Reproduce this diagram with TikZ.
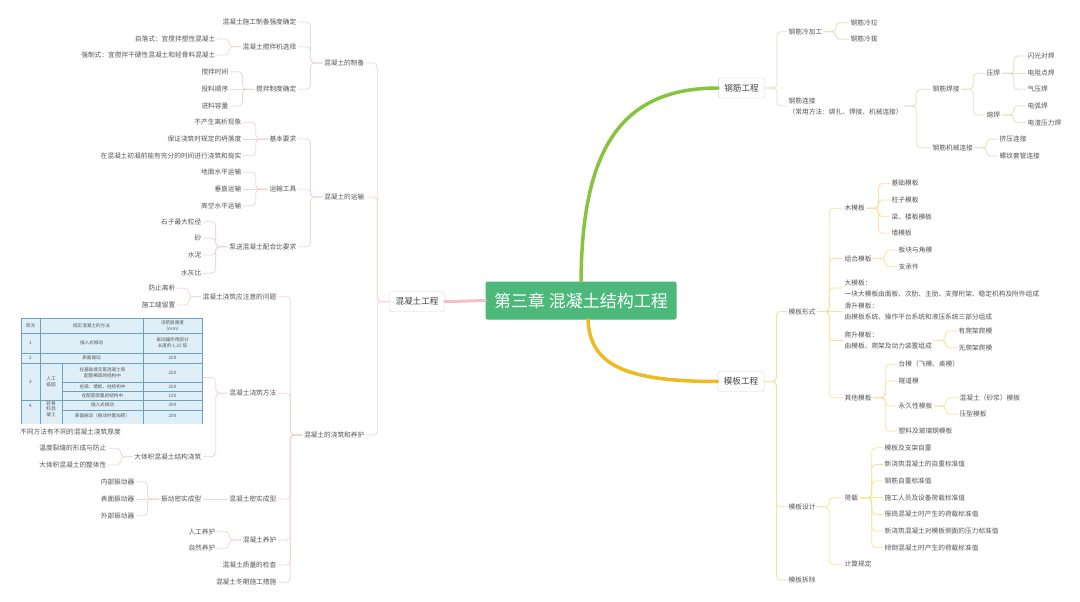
\documentclass[tikz,border=0pt]{standalone}
\usepackage{fontspec}
\setmainfont{Noto Sans CJK SC}
\usepackage{tikz}
\usetikzlibrary{fit}
\definecolor{topicgreen}{RGB}{76,184,122}
\definecolor{brgreen}{RGB}{134,196,62}
\definecolor{bryellow}{RGB}{238,186,32}
\definecolor{brpink}{RGB}{242,192,202}
\definecolor{lngreen}{RGB}{222,226,192}
\definecolor{lnyellow}{RGB}{246,226,160}
\definecolor{lnpink}{RGB}{242,214,214}
\definecolor{txt}{RGB}{85,85,85}
\definecolor{boxln}{RGB}{214,214,214}
\definecolor{tblfill}{RGB}{222,239,247}
\definecolor{tblline}{RGB}{110,160,192}
\tikzset{
  topic/.style={fill=topicgreen, text=white, rounded corners=2pt,
    minimum width=191pt, minimum height=38pt, font=\fontsize{17}{20}\selectfont},
  mainbox/.style={draw=boxln, fill=white, rounded corners=2pt, text=txt!80!black,
    minimum height=20pt, inner xsep=6pt, font=\fontsize{8.6}{10}\selectfont},
  leaf/.style={text=txt, inner sep=1.5pt, align=left, font=\fontsize{6.7}{11}\selectfont},
  lleaf/.style={leaf, anchor=east},
  rleaf/.style={leaf, anchor=west},
  cell/.style={text=txt, inner sep=0pt, align=center, font=\fontsize{4.6}{5.6}\selectfont},
  pinkln/.style={draw=lnpink, line width=0.8pt, rounded corners=4pt},
  greenln/.style={draw=lngreen, line width=0.8pt, rounded corners=4pt},
  yellowln/.style={draw=lnyellow, line width=0.8pt, rounded corners=4pt},
  trunk/.style={line width=3.5pt, line cap=round}
}
\newcommand{\rlink}[3]{\draw[#1] (#2.east) -- ++(12,0) |- (#3.west);}
\newcommand{\llink}[3]{\draw[#1] (#2.west) -- ++(-12,0) |- (#3.east);}

\begin{document}
\begin{tikzpicture}[x=1pt, y=-1pt]
  \useasboundingbox (0,0) rectangle (1080,602);
  \fill[white] (0,0) rectangle (1080,602);

  % centre and main branches
  \node[topic] (topic) at (581,300.5) {第三章 混凝土结构工程};
  \node[mainbox] (conc) at (417,301.7) {混凝土工程};
  \node[mainbox] (rebar) at (741.5,88) {钢筋工程};
  \node[mainbox] (form) at (741,381.5) {模板工程};
  \draw[trunk, draw=brpink, line width=3pt] (conc.east) -- (topic.west);
  \draw[trunk, draw=brgreen] (topic.north) .. controls (582,150) and (620,88) .. (rebar.west);
  \draw[trunk, draw=bryellow] ([xshift=7pt]topic.south) .. controls (590,365) and (625,381.5) .. (form.west);

  % ---- concrete (left) ----
  \node[lleaf] (prep) at (366,63) {混凝土的制备};
  \node[lleaf] (prepStr) at (298,22) {混凝土施工制备强度确定};
  \node[lleaf] (prepMix) at (298,46.7) {混凝土搅拌机选择};
  \node[lleaf] (mixFree) at (217,39) {自落式：宜搅拌塑性混凝土};
  \node[lleaf] (mixForce) at (217,55) {强制式：宜搅拌干硬性混凝土和轻骨料混凝土};
  \node[lleaf] (prepRule) at (298,89.3) {搅拌制度确定};
  \node[lleaf] (ruleTime) at (230,71.7) {搅拌时间};
  \node[lleaf] (ruleOrder) at (230,89.3) {投料顺序};
  \node[lleaf] (ruleLoad) at (230,106) {进料容量};

  \node[lleaf] (trans) at (366,197) {混凝土的运输};
  \node[lleaf] (req) at (298,139) {基本要求};
  \node[lleaf] (req1) at (243,122.3) {不产生离析现象};
  \node[lleaf] (req2) at (243,139) {保证浇筑时规定的坍落度};
  \node[lleaf] (req3) at (243,155.7) {在混凝土初凝前能有充分的时间进行浇筑和捣实};
  \node[lleaf] (tool) at (298,189) {运输工具};
  \node[lleaf] (tool1) at (243,172.3) {地面水平运输};
  \node[lleaf] (tool2) at (243,189) {垂直运输};
  \node[lleaf] (tool3) at (243,205.7) {高空水平运输};
  \node[lleaf] (pump) at (298,246.7) {泵送混凝土配合比要求};
  \node[lleaf] (pump1) at (203,221.7) {石子最大粒径};
  \node[lleaf] (pump2) at (203,238.3) {砂};
  \node[lleaf] (pump3) at (203,255) {水泥};
  \node[lleaf] (pump4) at (203,273.3) {水灰比};

  \node[lleaf] (cast) at (366,435) {混凝土的浇筑和养护};
  \node[lleaf] (note) at (278,296.7) {混凝土浇筑应注意的问题};
  \node[lleaf] (note1) at (177,288.3) {防止离析};
  \node[lleaf] (note2) at (177,305) {施工缝留置};
  \node[lleaf] (meth) at (278,393.3) {混凝土浇筑方法};
  \node[lleaf] (mass) at (203,456.7) {大体积混凝土结构浇筑};
  \node[lleaf] (mass1) at (108,448.3) {温度裂缝的形成与防止};
  \node[lleaf] (mass2) at (108,465) {大体积混凝土的整体性};
  \node[lleaf] (comp) at (278,499) {混凝土密实成型};
  \node[lleaf] (vib) at (203,499) {振动密实成型};
  \node[lleaf] (vib1) at (136,481.7) {内部振动器};
  \node[lleaf] (vib2) at (136,499) {表面振动器};
  \node[lleaf] (vib3) at (136,515.7) {外部振动器};
  \node[lleaf] (cure) at (278,540) {混凝土养护};
  \node[lleaf] (cure1) at (217,531.7) {人工养护};
  \node[lleaf] (cure2) at (217,548.3) {自然养护};
  \node[lleaf] (qual) at (278,565) {混凝土质量的检查};
  \node[lleaf] (wint) at (278,582.3) {混凝土冬期施工措施};

  % pouring-thickness table (picture attached to the topic)
  \begin{scope}
    \clip (19,316) rectangle (205,423);
    \fill[tblfill] (21,318) rectangle (202,440);
    \draw[tblline, line width=0.5pt] (21,318) rectangle (202,440)
      (40,318) -- (40,440) (143,318) -- (143,440) (62,363) -- (62,440)
      (21,333) -- (202,333) (21,353) -- (202,353) (21,363) -- (202,363)
      (62,382) -- (202,382) (62,391) -- (202,391) (21,400) -- (202,400)
      (62,410) -- (202,410);
    \node[cell] (h1) at (30.5,325.5) {项次};
    \node[cell] (h2) at (91.5,325.5) {捣实混凝土的方法};
    \node[cell] (h3) at (172.5,325.5) {浇筑层厚度\\（mm）};
    \node[cell] (r1a) at (30.5,343) {1};
    \node[cell] (r1b) at (91.5,343) {插入式振动};
    \node[cell] (r1c) at (172.5,343) {振动器作用部分\\长度的 1.25 倍};
    \node[cell] (r2a) at (30.5,358) {2};
    \node[cell] (r2b) at (91.5,358) {表面振动};
    \node[cell] (r2c) at (172.5,358) {200};
    \node[cell] (r3a) at (30.5,381.5) {3};
    \node[cell] (r3b) at (51,381.5) {人工\\捣固};
    \node[cell] (r3c) at (102.5,372.5) {在基础或无筋混凝土和\\配筋稀疏的结构中};
    \node[cell] (r3d) at (172.5,372.5) {250};
    \node[cell] (r3e) at (102.5,386.5) {在梁、墙板、柱结构中};
    \node[cell] (r3f) at (172.5,386.5) {200};
    \node[cell] (r3g) at (102.5,395.5) {在配筋密集的结构中};
    \node[cell] (r3h) at (172.5,395.5) {150};
    \node[cell] (r4a) at (30.5,406) {4};
    \node[cell, anchor=north] (r4b) at (51,401) {轻骨\\料混\\凝土};
    \node[cell] (r4c) at (102.5,405) {插入式振动};
    \node[cell] (r4d) at (172.5,405) {300};
    \node[cell] (r4e) at (102.5,416) {表面振动（振动时需加荷）};
    \node[cell] (r4f) at (172.5,416) {200};
  \end{scope}
  \node[leaf, anchor=west] (tblcap) at (18.5,432) {不同方法有不同的混凝土浇筑厚度};
  \node[fit={(20,318) (203,437)}, inner sep=0pt] (tbl) {};

  \llink{pinkln}{conc}{prep}
  \llink{pinkln}{conc}{trans}
  \llink{pinkln}{conc}{cast}
  \foreach \c in {prepStr,prepMix,prepRule} {\llink{pinkln}{prep}{\c}}
  \foreach \c in {mixFree,mixForce} {\llink{pinkln}{prepMix}{\c}}
  \foreach \c in {ruleTime,ruleLoad} {\llink{pinkln}{prepRule}{\c}}
  \draw[pinkln] (prepRule.west) -- (ruleOrder.east);
  \foreach \c in {req,tool,pump} {\llink{pinkln}{trans}{\c}}
  \foreach \c in {req1,req3} {\llink{pinkln}{req}{\c}}
  \draw[pinkln] (req.west) -- (req2.east);
  \foreach \c in {tool1,tool3} {\llink{pinkln}{tool}{\c}}
  \draw[pinkln] (tool.west) -- (tool2.east);
  \foreach \c in {pump1,pump2,pump3,pump4} {\llink{pinkln}{pump}{\c}}
  \foreach \c in {note,meth,comp,cure,qual,wint} {\llink{pinkln}{cast}{\c}}
  \foreach \c in {note1,note2} {\llink{pinkln}{note}{\c}}
  \foreach \c in {tbl,mass} {\llink{pinkln}{meth}{\c}}
  \foreach \c in {mass1,mass2} {\llink{pinkln}{mass}{\c}}
  \draw[pinkln] (comp.west) -- (vib.east);
  \foreach \c in {vib1,vib3} {\llink{pinkln}{vib}{\c}}
  \draw[pinkln] (vib.west) -- (vib2.east);
  \foreach \c in {cure1,cure2} {\llink{pinkln}{cure}{\c}}

  % ---- rebar (top right) ----
  \node[rleaf] (cold) at (787,31.7) {钢筋冷加工};
  \node[rleaf] (cold1) at (849,22.7) {钢筋冷拉};
  \node[rleaf] (cold2) at (849,39.3) {钢筋冷拔};
  \node[rleaf] (conn) at (787,106) {钢筋连接\\（常用方法：绑扎、焊接、机械连接）};
  \node[rleaf] (weld) at (931,89.3) {钢筋焊接};
  \node[rleaf] (press) at (985,73.3) {压焊};
  \node[rleaf] (press1) at (1026,56) {闪光对焊};
  \node[rleaf] (press2) at (1026,73.3) {电阻点焊};
  \node[rleaf] (press3) at (1026,89.3) {气压焊};
  \node[rleaf] (fuse) at (985,115) {熔焊};
  \node[rleaf] (fuse1) at (1026,106) {电弧焊};
  \node[rleaf] (fuse2) at (1026,122.7) {电渣压力焊};
  \node[rleaf] (mech) at (931,147.7) {钢筋机械连接};
  \node[rleaf] (mech1) at (998,139.3) {挤压连接};
  \node[rleaf] (mech2) at (998,156) {螺纹套管连接};

  \foreach \c in {cold,conn} {\rlink{greenln}{rebar}{\c}}
  \foreach \c in {cold1,cold2} {\rlink{greenln}{cold}{\c}}
  \foreach \c in {weld,mech} {\rlink{greenln}{conn}{\c}}
  \foreach \c in {press,fuse} {\rlink{greenln}{weld}{\c}}
  \foreach \c in {press1,press3} {\rlink{greenln}{press}{\c}}
  \draw[greenln] (press.east) -- (press2.west);
  \foreach \c in {fuse1,fuse2} {\rlink{greenln}{fuse}{\c}}
  \foreach \c in {mech1,mech2} {\rlink{greenln}{mech}{\c}}

  % ---- formwork (bottom right) ----
  \node[rleaf] (ftype) at (787,311.5) {模板形式};
  \node[rleaf] (wood) at (843,208.3) {木模板};
  \node[rleaf] (wood1) at (890,183.3) {基础模板};
  \node[rleaf] (wood2) at (890,200) {柱子模板};
  \node[rleaf] (wood3) at (890,216.7) {梁、楼板模板};
  \node[rleaf] (wood4) at (890,233.3) {墙模板};
  \node[rleaf] (combo) at (843,258.5) {组合模板};
  \node[rleaf] (combo1) at (897,250) {板块与角模};
  \node[rleaf] (combo2) at (897,266.7) {支承件};
  \node[rleaf] (big) at (843,288) {大模板：\\一块大模板由面板、次肋、主肋、支撑桁架、稳定机构及附件组成};
  \node[rleaf] (slip) at (843,311.5) {滑升模板：\\由模板系统、操作平台系统和液压系统三部分组成};
  \node[rleaf] (climb) at (843,340.5) {爬升模板：\\由模板、爬架及动力装置组成};
  \node[rleaf] (climb1) at (957,331) {有爬架爬模};
  \node[rleaf] (climb2) at (957,347.7) {无爬架爬模};
  \node[rleaf] (other) at (843,397.7) {其他模板};
  \node[rleaf] (oth1) at (897,364.3) {台模（飞模、桌模）};
  \node[rleaf] (oth2) at (897,381) {隧道模};
  \node[rleaf] (oth3) at (897,406) {永久性模板};
  \node[rleaf] (perm1) at (958,397.7) {混凝土（砂浆）模板};
  \node[rleaf] (perm2) at (958,414.3) {压型模板};
  \node[rleaf] (oth4) at (897,431) {塑料及玻璃钢模板};
  \node[rleaf] (design) at (787,506.7) {模板设计};
  \node[rleaf] (load) at (843,497.7) {荷载};
  \foreach \n/\t/\y in {load1/模板及支架自重/447.7, load2/新浇筑混凝土的自重标准值/464.4,
      load3/钢筋自重标准值/481, load4/施工人员及设备荷载标准值/497.7,
      load5/振捣混凝土时产生的荷载标准值/514.4, load6/新浇筑混凝土对模板侧面的压力标准值/531,
      load7/倾倒混凝土时产生的荷载标准值/547.7}
    {\node[rleaf] (\n) at (883,\y) {\t};}
  \node[rleaf] (calc) at (843,564.3) {计算规定};
  \node[rleaf] (strip) at (787,580) {模板拆除};

  \foreach \c in {ftype,design,strip} {\rlink{yellowln}{form}{\c}}
  \foreach \c in {wood,combo,big,climb,other} {\rlink{yellowln}{ftype}{\c}}
  \draw[yellowln] (ftype.east) -- (slip.west);
  \foreach \c in {wood1,wood2,wood3,wood4} {\rlink{yellowln}{wood}{\c}}
  \foreach \c in {combo1,combo2} {\rlink{yellowln}{combo}{\c}}
  \foreach \c in {climb1,climb2} {\rlink{yellowln}{climb}{\c}}
  \foreach \c in {oth1,oth2,oth3,oth4} {\rlink{yellowln}{other}{\c}}
  \foreach \c in {perm1,perm2} {\rlink{yellowln}{oth3}{\c}}
  \foreach \c in {load,calc} {\rlink{yellowln}{design}{\c}}
  \foreach \c in {load1,load2,load3,load5,load6,load7} {\rlink{yellowln}{load}{\c}}
  \draw[yellowln] (load.east) -- (load4.west);
\end{tikzpicture}
\end{document}
